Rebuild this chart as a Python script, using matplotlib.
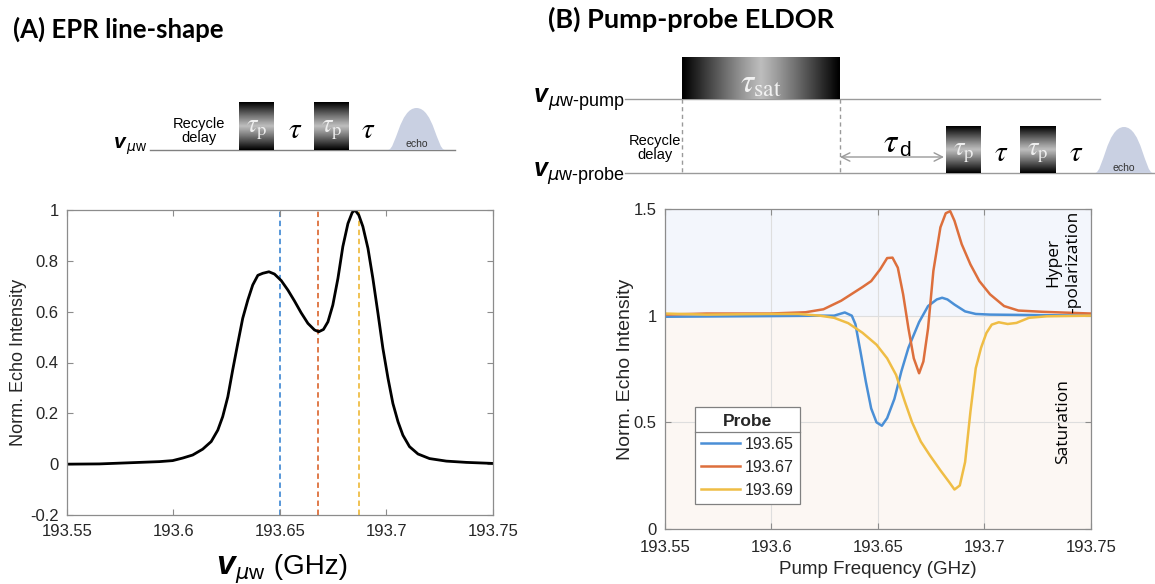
import numpy as np
import matplotlib
matplotlib.use("Agg")
import matplotlib.pyplot as plt
from matplotlib.path import Path
from matplotlib.patches import PathPatch, FancyArrowPatch
from matplotlib.lines import Line2D

# ---- data ----
epr_freq = [193.55, 193.5652, 193.5809, 193.5934, 193.5996, 193.6043, 193.609, 193.6137,
            193.6177, 193.6208, 193.6231, 193.6255, 193.6278, 193.6302, 193.6325, 193.6349,
            193.6372, 193.6396, 193.6419, 193.6448, 193.6474, 193.6506, 193.6537, 193.6568,
            193.6599, 193.6631, 193.6662, 193.6682, 193.6704, 193.6725, 193.6748, 193.6772,
            193.6795, 193.6819, 193.6839, 193.6852, 193.687, 193.6889, 193.6913, 193.6936,
            193.696, 193.6983, 193.7007, 193.703, 193.7054, 193.7077, 193.7108, 193.7148,
            193.7202, 193.7281, 193.7375, 193.7498]
epr_int = [0.0, 0.001, 0.006, 0.01, 0.014, 0.024, 0.036, 0.059,
           0.089, 0.134, 0.187, 0.265, 0.371, 0.476, 0.574, 0.646,
           0.705, 0.743, 0.751, 0.757, 0.748, 0.722, 0.685, 0.642,
           0.596, 0.554, 0.528, 0.521, 0.530, 0.560, 0.626, 0.731,
           0.856, 0.947, 0.990, 1.0, 0.980, 0.935, 0.849, 0.731,
           0.593, 0.456, 0.338, 0.239, 0.167, 0.114, 0.069, 0.040,
           0.022, 0.012, 0.007, 0.003]

probe_freqs = ["193.65", "193.67", "193.69"]
probe_marks = [193.65, 193.668, 193.687]

pump_f_65 = [193.55, 193.5994, 193.6244, 193.6294, 193.6344, 193.6377, 193.6394, 193.6418,
             193.6443, 193.6468, 193.6493, 193.6518, 193.6543, 193.6577, 193.661, 193.6643,
             193.6693, 193.6735, 193.6776, 193.6801, 193.6826, 193.6859, 193.6909, 193.6959,
             193.7026, 193.75]
echo_65 = [0.995, 0.998, 1.0, 1.0, 1.015, 1.0, 0.96, 0.83,
           0.69, 0.565, 0.50, 0.484, 0.52, 0.61, 0.74, 0.85,
           0.97, 1.045, 1.076, 1.084, 1.076, 1.052, 1.02, 1.008,
           1.005, 1.0]

pump_f_67 = [193.55, 193.5695, 193.5994, 193.616, 193.6244, 193.6327, 193.6427, 193.6468,
             193.651, 193.6543, 193.6568, 193.6593, 193.6618, 193.6643, 193.6668, 193.6693,
             193.6713, 193.6735, 193.676, 193.6793, 193.6818, 193.6839, 193.6859, 193.6893,
             193.6934, 193.6976, 193.7026, 193.7092, 193.7159, 193.7275, 193.75]
echo_67 = [1.005, 1.01, 1.01, 1.016, 1.03, 1.07, 1.134, 1.162,
           1.217, 1.27, 1.272, 1.225, 1.10, 0.94, 0.80, 0.73,
           0.785, 0.94, 1.21, 1.414, 1.48, 1.49, 1.445, 1.335,
           1.24, 1.162, 1.10, 1.045, 1.024, 1.018, 1.01]

pump_f_69 = [193.55, 193.5695, 193.5994, 193.6127, 193.6227, 193.6294, 193.636, 193.6427,
             193.6493, 193.6543, 193.6585, 193.6626, 193.666, 193.6701, 193.6743, 193.6793,
             193.6834, 193.6859, 193.6884, 193.6909, 193.6934, 193.6959, 193.6984, 193.7009,
             193.7034, 193.7067, 193.7109, 193.715, 193.7209, 193.7292, 193.75]
echo_69 = [1.01, 1.005, 1.008, 1.008, 1.0, 0.99, 0.965, 0.92,
           0.864, 0.80, 0.722, 0.597, 0.50, 0.41, 0.346, 0.275,
           0.22, 0.185, 0.204, 0.314, 0.55, 0.754, 0.85, 0.919,
           0.958, 0.969, 0.961, 0.966, 0.99, 0.997, 1.0]

freq_ticks = [193.55, 193.6, 193.65, 193.7, 193.75]
left_yticks = [-0.2, 0, 0.2, 0.4, 0.6, 0.8, 1]
right_yticks = [0, 0.5, 1, 1.5]

line_colors = ["#4a8fd6", "#dd6f3c", "#efbd45"]

plt.rcParams["font.family"] = ["Liberation Sans", "DejaVu Sans"]

W, H = 1155, 584
fig = plt.figure(figsize=(W / 100, H / 100), dpi=100)


def style_axes(ax, xpad):
    for sp in ax.spines.values():
        sp.set_color("#8c8c8c")
        sp.set_linewidth(0.9)
    ax.tick_params(direction="in", length=4, width=0.8, color="#8c8c8c",
                   labelsize=12, labelcolor="#262626", top=True, right=True)
    ax.tick_params(axis="x", pad=xpad)
    ax.tick_params(axis="y", pad=6)
    ax.set_xticks(freq_ticks)
    ax.set_xticklabels([f"{t:g}" for t in freq_ticks])
    ax.set_xlim(193.55, 193.75)


# ---- (A) EPR line shape ----
ax1 = fig.add_axes([67 / W, 1 - 515 / H, 426 / W, 305 / H])
style_axes(ax1, 6.5)
ax1.set_ylim(-0.2, 1)
ax1.set_yticks(left_yticks)
ax1.set_yticklabels([f"{t:g}" for t in left_yticks])
for m, c in zip(probe_marks, line_colors):
    ax1.axvline(m, color=c, lw=1.3, dashes=(3, 2), zorder=1)
ax1.plot(epr_freq, epr_int, color="black", lw=2, zorder=2)
ax1.set_ylabel("Norm. Echo Intensity", fontsize=13, color="#262626", labelpad=2)

# ---- (B) pump-probe ELDOR ----
ax2 = fig.add_axes([665 / W, 1 - 529 / H, 426 / W, 320 / H])
style_axes(ax2, 8)
ax2.set_ylim(0, 1.5)
ax2.set_yticks(right_yticks)
ax2.set_yticklabels([f"{t:g}" for t in right_yticks])
ax2.axhspan(1, 1.5, color="#f3f6fc", zorder=0, lw=0)
ax2.axhspan(0, 1, color="#fcf7f3", zorder=0, lw=0)
ax2.set_axisbelow(True)
ax2.grid(True, color="#dedede", lw=0.8)
handles = []
for f, v, c, lab in zip([pump_f_65, pump_f_67, pump_f_69], [echo_65, echo_67, echo_69],
                        line_colors, probe_freqs):
    h, = ax2.plot(f, v, color=c, lw=1.8, label=lab)
    handles.append(h)
ax2.set_xlabel("Pump Frequency (GHz)", fontsize=13.5, color="#262626", labelpad=4)
ax2.set_ylabel("Norm. Echo Intensity", fontsize=14, color="#262626", labelpad=0)
leg = ax2.legend(handles=handles, title="Probe", loc="lower left",
                 bbox_to_anchor=(0.07, 0.078), borderaxespad=0, fancybox=False,
                 edgecolor="#808080", framealpha=1, fontsize=11.5,
                 title_fontproperties={"weight": "bold", "size": 12.5},
                 handlelength=2.4, handletextpad=0.3, borderpad=0.4, labelspacing=0.5)
leg.get_frame().set_linewidth(0.9)
for t in leg.get_texts():
    t.set_color("#262626")
leg.get_title().set_color("#262626")

# ---- overlay in pixel coordinates for diagrams and titles ----
ov = fig.add_axes([0, 0, 1, 1], zorder=10)
ov.set_xlim(0, W)
ov.set_ylim(H, 0)
ov.set_autoscale_on(False)
ov.axis("off")
ov.patch.set_visible(False)

renderer = fig.canvas.get_renderer()


def put_parts(x, y, parts, align="left"):
    texts = []
    for s, kw, dy in parts:
        texts.append(ov.text(0, y + dy, s, va="baseline", ha="left", **kw))
    widths = [t.get_window_extent(renderer).width for t in texts]
    total = sum(widths)
    start = {"left": x, "right": x - total, "center": x - total / 2}[align]
    for t, w in zip(texts, widths):
        t.set_x(start)
        start += w


def pulse(x0, x1, top, base, horizontal=False):
    prof = 1 - np.abs(np.linspace(-1, 1, 80)) ** 1.1
    img = prof[None, :] if horizontal else prof[:, None]
    ov.imshow(img, cmap="gray", vmin=0.0, vmax=1.35, extent=(x0, x1, base, top),
              aspect="auto", interpolation="bilinear", zorder=3)


def echo(x0, x1, top, base, label_y):
    w = x1 - x0
    xm = x0 + w * 0.5
    verts = [(x0, base), (x0 + 0.14 * w, base), (x0 + 0.2 * w, top), (xm, top),
             (x1 - 0.2 * w, top), (x1 - 0.14 * w, base), (x1, base), (x0, base)]
    codes = [Path.MOVETO] + [Path.CURVE4] * 6 + [Path.CLOSEPOLY]
    ov.add_patch(PathPatch(Path(verts, codes), facecolor="#c9d0e2", edgecolor="none", zorder=3))
    ov.text(xm, label_y, "echo", ha="center", va="center", fontsize=7.5, color="#333333", zorder=4)


tau_kw = dict(fontsize=21, math_fontfamily="stix", color="black")
taup_kw = dict(fontsize=19, math_fontfamily="stix", color="#eeeeee", zorder=5)

# titles
ov.text(13, 38, "(A) EPR line-shape", fontsize=18.5, fontweight="bold", family="Lato", va="baseline")
ov.text(548, 28, "(B) Pump-probe ELDOR", fontsize=19.5, fontweight="bold", family="Lato", va="baseline")

# sequence A
ov.plot([150, 455], [150, 150], color="#808080", lw=1)
put_parts(147, 148, [("v", dict(fontsize=15, style="italic", weight="bold"), 0),
                     (r"$\mu$w", dict(fontsize=10), 3)], align="right")
ov.text(199, 131, "Recycle\ndelay", ha="center", va="center", fontsize=10.5, linespacing=1.05)
for x0, x1 in [(239, 274), (314, 349)]:
    pulse(x0, x1, 102, 150)
    ov.text((x0 + x1) / 2, 130, r"$\tau_\mathrm{p}$", ha="center", va="center", **taup_kw)
for xt in [295, 368]:
    ov.text(xt, 130, r"$\tau$", ha="center", va="center", **tau_kw)
echo(388, 445, 108, 150, 144)

# sequence B
ov.plot([625, 1100], [99, 99], color="#9a9a9a", lw=1)
ov.plot([625, 1155], [173, 173], color="#9a9a9a", lw=1)
for xd in [682, 840]:
    ov.plot([xd, xd], [99, 173], color="#9a9a9a", lw=1, dashes=(3, 2.5))
pulse(682, 840, 57, 99, horizontal=True)
ov.text(761, 84, r"$\tau_\mathrm{sat}$", ha="center", va="center", fontsize=24,
        math_fontfamily="stix", color="#f2f2f2", zorder=5)
put_parts(625, 102, [("v", dict(fontsize=18, style="italic", weight="bold"), 0),
                     (r"$\mu$w-pump", dict(fontsize=13), 4)], align="right")
put_parts(625, 176, [("v", dict(fontsize=18, style="italic", weight="bold"), 0),
                     (r"$\mu$w-probe", dict(fontsize=13), 4)], align="right")
ov.text(655, 148, "Recycle\ndelay", ha="center", va="center", fontsize=10.5, linespacing=1.05)
ov.add_patch(FancyArrowPatch((840, 157), (944, 157), arrowstyle="<->,head_length=6,head_width=3",
                             color="#9a9a9a", lw=1, shrinkA=0, shrinkB=0))
put_parts(897, 152, [(r"$\tau$", dict(fontsize=24, math_fontfamily="stix"), 0),
                     ("d", dict(fontsize=15), 4)], align="center")
for x0, x1 in [(946, 981), (1020, 1056)]:
    pulse(x0, x1, 126, 173)
    ov.text((x0 + x1) / 2, 153, r"$\tau_\mathrm{p}$", ha="center", va="center", **taup_kw)
for xt in [1001, 1076]:
    ov.text(xt, 153, r"$\tau$", ha="center", va="center", **tau_kw)
echo(1095, 1153, 127, 173, 168)

# x label of panel A
put_parts(282, 574, [("v", dict(fontsize=24, style="italic", weight="bold"), 0),
                     (r"$\mu$w", dict(fontsize=15), 5),
                     (" (GHz)", dict(fontsize=20), 0)], align="center")

# region notes on panel B
ov.text(1063, 262, "Hyper\n-polarization", rotation=90, ha="center", va="center",
        multialignment="center", family="Open Sans", fontsize=12.5, linespacing=1.35)
ov.text(1063, 422, "Saturation", rotation=90, ha="center", va="center",
        family="Open Sans", fontsize=12.5)

# separator under the legend title
fig.canvas.draw()
lb = leg.get_window_extent(renderer)
tb = leg.get_title().get_window_extent(renderer)
ysep = H - (tb.y0 - 3)
ov.add_line(Line2D([lb.x0, lb.x1], [ysep, ysep], color="#808080", lw=0.9, zorder=20))

fig.savefig("out.png", dpi=100)
